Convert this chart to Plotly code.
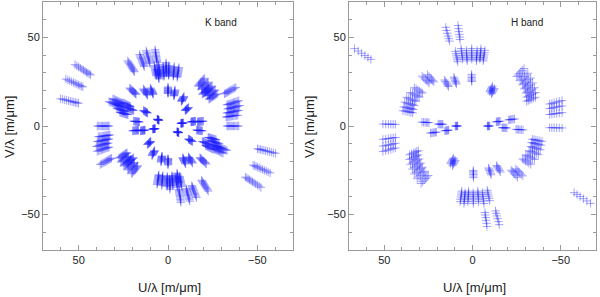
import plotly.graph_objects as go

# ---------------- data ----------------
# Spectral channels (micrometres)
K_LAMBDA_UM = [2.00, 2.04, 2.08, 2.12, 2.16, 2.20, 2.24, 2.28, 2.32, 2.36, 2.40]
H_LAMBDA_UM = [1.55, 1.60, 1.65, 1.70, 1.75, 1.80]

# Projected baselines (metres) of each K-band observation; the conjugate (-u,-v) is also plotted
K_BU_M = [104.1, 114.4, 120.3, 45.1, 31.9, 24.4, 14.5,
          15.4, 10.6, 5.3, -0.9, -7.0, -12.3, 2.2, 12.1,
          -40.7, -45.1, -49.5, -52.8, -55.0, -46.2, -75.9,
          -79.2, -80.3, -79.2, -78.1, -79.2,
          42.9, 27.5, 19.8, 0.0, -7.9, -18.0, -23.1,
          61.6, 59.4, 57.2, 53.9, 50.6, 66.0, 46.2, 27.5,
          38.5, 39.6, 12.1, -17.2, -30.8]
K_BV_M = [69.3, 53.0, 30.8, 73.5, 80.7, 84.9, 86.2,
          68.2, 69.3, 67.1, 68.2, 67.1, 66.0, 71.5, 63.8,
          53.9, 49.5, 45.1, 40.7, 36.3, 42.9, 43.6,
          28.6, 23.1, 17.6, 12.1, 0.0,
          42.9, 41.8, 42.9, 44.0, 40.7, 33.4, 20.9,
          30.8, 25.3, 19.8, 15.4, 26.4, 27.5, 20.9, 17.6,
          5.5, -5.5, 7.7, 3.5, 5.5]

# Projected baselines (metres) of each H-band observation
H_BU_M = [103.7, 23.5, 12.7,
          15.1, 10.1, 5.4, 0.7, -4.0, -7.5, -10.9,
          0.8, 24.5, 16.4, 44.2, 39.5,
          51.1, 54.4, 57.8, 59.5, 60.3, 61.1,
          78.7, 78.7, 78.7, 78.7,
          -45.2, -48.6, -51.1, -52.8, -54.4, -55.3, -55.3,
          -17.6, -19.3,
          44.4, 30.2, 15.1, 36.9, 24.3]
H_BV_M = [67.7, 86.3, 87.9,
          65.3, 67.8, 66.2, 67.8, 66.2, 67.8, 66.2,
          45.2, 40.2, 42.7, 43.6, 44.9,
          33.5, 29.3, 25.1, 20.9, 16.8, 13.4,
          1.7, -11.7, -17.6, -22.3,
          50.3, 46.1, 41.9, 37.7, 33.5, 29.3, 25.1,
          34.8, 32.7,
          3.4, 1.7, 0.0, -6.2, -4.2]

AX_RANGE = [-70, 70]
MAJOR_STEP = 50
MINOR_STEP = 10


def uv_points(bu, bv, lams):
    us, vs = [], []
    for x, y in zip(bu, bv):
        for lam in lams:
            us += [x / lam, -x / lam]
            vs += [y / lam, -y / lam]
    return us, vs


ku, kv = uv_points(K_BU_M, K_BV_M, K_LAMBDA_UM)
hu, hv = uv_points(H_BU_M, H_BV_M, H_LAMBDA_UM)

COLOR = "rgba(30,30,255,0.40)"
GRAY = "#9a9a9a"
FONT = "Liberation Sans, Arial, sans-serif"

fig = go.Figure()
marker = dict(symbol="cross-thin", size=6, color=COLOR, line=dict(width=1, color=COLOR))
fig.add_trace(go.Scatter(x=ku, y=kv, mode="markers", marker=marker, xaxis="x", yaxis="y",
                         hoverinfo="skip", showlegend=False))
fig.add_trace(go.Scatter(x=hu, y=hv, mode="markers", marker=marker, xaxis="x2", yaxis="y2",
                         hoverinfo="skip", showlegend=False))

W, H = 600, 297


def axis(rng, domain, anchor):
    return dict(range=rng, domain=domain, anchor=anchor, dtick=MAJOR_STEP, tick0=0,
                ticks="inside", ticklen=5, tickwidth=1, tickcolor=GRAY,
                showline=True, linecolor=GRAY, linewidth=1, mirror="ticks",
                showgrid=False, zeroline=False, automargin=False,
                minor=dict(dtick=MINOR_STEP, tick0=0, ticks="inside", ticklen=3,
                           tickwidth=1, tickcolor=GRAY, showgrid=False),
                tickfont=dict(size=11, color="#222", family=FONT))


ydom = [1 - 250 / H, 1 - 2 / H]
fig.update_layout(
    width=W, height=H,
    margin=dict(l=0, r=0, t=0, b=0, autoexpand=False),
    paper_bgcolor="white", plot_bgcolor="white",
    font=dict(family=FONT, color="#222"),
    xaxis=axis(AX_RANGE[::-1], [43 / W, 293 / W], "y"),
    yaxis=axis(AX_RANGE, ydom, "x"),
    xaxis2=axis(AX_RANGE[::-1], [349 / W, 596 / W], "y2"),
    yaxis2=axis(AX_RANGE, ydom, "x2"),
)

ann = []
for xc, yl_x, label_x, label in [(169, 10, 220.5, "K band"), (474, 310, 526.5, "H band")]:
    ann.append(dict(text="U/λ [m/μm]", x=xc / W, y=1 - 287 / H, xref="paper", yref="paper",
                    showarrow=False, font=dict(size=13, color="#222"), xanchor="center", yanchor="middle"))
    ann.append(dict(text="V/λ [m/μm]", x=yl_x / W, y=1 - 127 / H, xref="paper", yref="paper",
                    showarrow=False, textangle=-90, font=dict(size=13, color="#222"),
                    xanchor="center", yanchor="middle"))
    ann.append(dict(text=label, x=label_x / W, y=1 - 22 / H, xref="paper", yref="paper",
                    showarrow=False, font=dict(size=10, color="#222"), xanchor="center", yanchor="middle"))
fig.update_layout(annotations=ann)

fig.write_html("out.html", config={"displayModeBar": False},
               post_script="document.body.style.margin='0';document.body.style.overflow='hidden';")
